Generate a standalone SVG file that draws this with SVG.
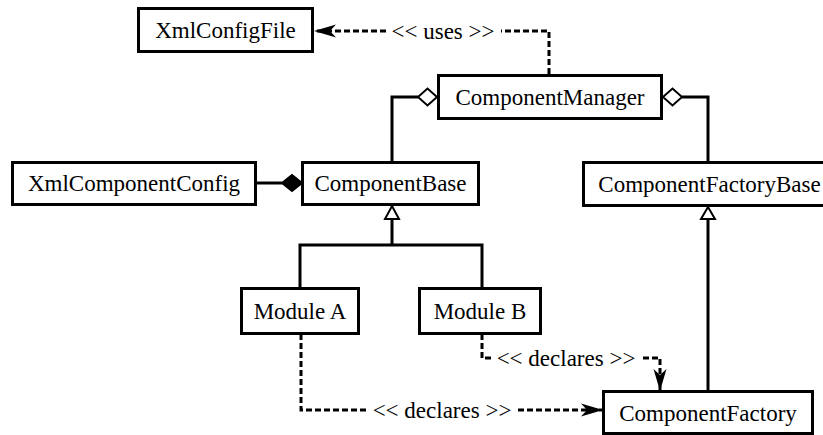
<svg xmlns="http://www.w3.org/2000/svg" width="823" height="435" viewBox="0 0 823 435">
  <style>
    .box { fill: #fff; stroke: #000; stroke-width: 3; }
    .lbl { font-family: "Times New Roman", "Liberation Serif", "DejaVu Serif", serif; font-size: 23px; fill: #000; text-anchor: middle; }
    .solid { fill: none; stroke: #000; stroke-width: 3; }
    .dash { fill: none; stroke: #000; stroke-width: 3; stroke-dasharray: 6 3; }
    .hollow { fill: #fff; stroke: #000; stroke-width: 2; }
    .filled { fill: #000; stroke: #000; stroke-width: 2; }
  </style>
  <defs>
    <marker id="open-dep" markerUnits="userSpaceOnUse" markerWidth="24" markerHeight="16" refX="22" refY="7" orient="auto">
      <path d="M22,7 L0,0.5 L6,7 L0,13.5 Z" fill="#000"/>
    </marker>
  </defs>

  <rect width="823" height="435" fill="#fff"/>

  <!-- connectors -->
  <g id="connectors">
    <!-- ComponentManager uses XmlConfigFile -->
    <path class="dash" d="M549,74 V31 H501"/>
    <path class="dash" d="M386,31 H314" marker-end="url(#open-dep)"/>
    <text class="lbl" x="443" y="39">&lt;&lt; uses &gt;&gt;</text>

    <!-- aggregation ComponentManager - ComponentBase -->
    <path class="solid" d="M418,97 H392 V163"/>
    <path class="hollow" d="M437,97 L427.5,88.5 L418,97 L427.5,105.5 Z"/>

    <!-- aggregation ComponentManager - ComponentFactoryBase -->
    <path class="solid" d="M682,97 H708 V163"/>
    <path class="hollow" d="M663,97 L672.5,88.5 L682,97 L672.5,105.5 Z"/>

    <!-- composition XmlComponentConfig - ComponentBase -->
    <path class="solid" d="M255,183 H282"/>
    <path class="filled" d="M302,183 L292,175 L282,183 L292,191 Z"/>

    <!-- generalization Module A / Module B -> ComponentBase -->
    <path class="solid" d="M300,289 V245 H482 V289 M392,245 V219"/>
    <path class="hollow" d="M392,206 L399,219 L385,219 Z"/>

    <!-- generalization ComponentFactory -> ComponentFactoryBase -->
    <path class="solid" d="M708,392 V219"/>
    <path class="hollow" d="M708,207 L715,219 L701,219 Z"/>

    <!-- Module A declares ComponentFactory -->
    <path class="dash" d="M301,334 V410 H369"/>
    <path class="dash" d="M518,410 H603" marker-end="url(#open-dep)"/>
    <text class="lbl" x="442" y="418">&lt;&lt; declares &gt;&gt;</text>

    <!-- Module B declares ComponentFactory -->
    <path class="dash" d="M482,334 V358 H493"/>
    <path class="dash" d="M643,358 H660 V391" marker-end="url(#open-dep)"/>
    <text class="lbl" x="566" y="366">&lt;&lt; declares &gt;&gt;</text>
  </g>

  <!-- nodes -->
  <g id="XmlConfigFile">
    <rect class="box" x="138.5" y="8.5" width="174" height="43"/>
    <text class="lbl" x="225.5" y="38">XmlConfigFile</text>
  </g>
  <g id="ComponentManager">
    <rect class="box" x="438.5" y="75.5" width="223" height="43"/>
    <text class="lbl" x="550" y="105">ComponentManager</text>
  </g>
  <g id="XmlComponentConfig">
    <rect class="box" x="12.5" y="162.5" width="243" height="42"/>
    <text class="lbl" x="134" y="191">XmlComponentConfig</text>
  </g>
  <g id="ComponentBase">
    <rect class="box" x="302.5" y="162.5" width="176" height="42"/>
    <text class="lbl" x="390.5" y="191">ComponentBase</text>
  </g>
  <g id="ComponentFactoryBase">
    <rect class="box" x="583.5" y="162.5" width="250" height="43"/>
    <text class="lbl" x="709.5" y="192">ComponentFactoryBase</text>
  </g>
  <g id="ModuleA">
    <rect class="box" x="241.5" y="288.5" width="117" height="45"/>
    <text class="lbl" x="300" y="319">Module A</text>
  </g>
  <g id="ModuleB">
    <rect class="box" x="419.5" y="288.5" width="121" height="45"/>
    <text class="lbl" x="480" y="319">Module B</text>
  </g>
  <g id="ComponentFactory">
    <rect class="box" x="603.5" y="391.5" width="209" height="42"/>
    <text class="lbl" x="708" y="421">ComponentFactory</text>
  </g>
</svg>
